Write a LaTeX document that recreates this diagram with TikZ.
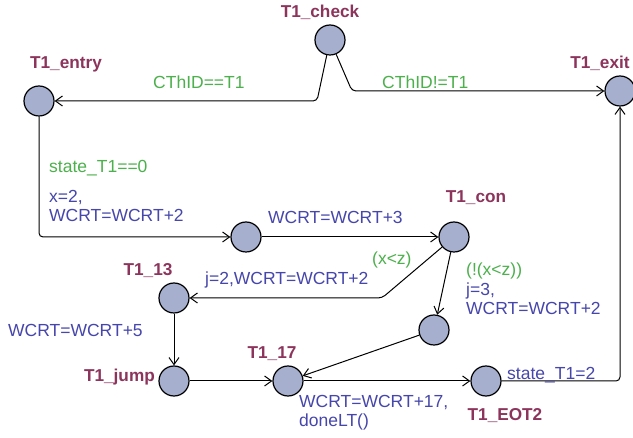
\documentclass[tikz,border=0pt]{standalone}
\usepackage{fontspec}
\setmainfont{Liberation Sans}
\usetikzlibrary{arrows.meta}
\definecolor{locfill}{RGB}{166,176,206}
\definecolor{locname}{RGB}{140,52,92}
\definecolor{guardc}{RGB}{76,176,76}
\definecolor{assignc}{RGB}{70,70,172}
\begin{document}
\begin{tikzpicture}[x=1pt,y=-1pt,
 loc/.style={circle, draw, line width=1.2pt, fill=locfill, minimum size=30pt, inner sep=0pt},
 lname/.style={text=locname, font=\fontsize{17.2}{19}\selectfont\bfseries, inner sep=0pt, anchor=base},
 grd/.style={text=guardc, font=\fontsize{17.5}{19}\selectfont, inner sep=0pt, anchor=base west},
 asg/.style={text=assignc, font=\fontsize{17.5}{19}\selectfont, inner sep=0pt, anchor=base west, align=left},
 edge/.style={draw, line width=1pt, -{Straight Barb[length=7pt,width=10pt]}, rounded corners=4pt}]
\useasboundingbox (0,0) rectangle (633,438);
\fill[white] (0,0) rectangle (633,438);
% locations
\node[loc] (check) at (330,40) {};
\node[loc] (entry) at (39,101) {};
\node[loc] (exit) at (620,91) {};
\node[loc] (a) at (246,237) {};
\node[loc] (con) at (454,237) {};
\node[loc] (t13) at (174,298) {};
\node[loc] (b) at (434,330) {};
\node[loc] (jump) at (174,381) {};
\node[loc] (t17) at (288,381) {};
\node[loc] (eot) at (486,381) {};
% names
\node[lname] (ncheck) at (320,18) {T1\_check};
\node[lname] (nentry) at (66,69) {T1\_entry};
\node[lname] (nexit) at (600,69) {T1\_exit};
\node[lname] (ncon) at (476,203) {T1\_con};
\node[lname] (n13) at (148,276) {T1\_13};
\node[lname, anchor=base east] (njump) at (155,382) {T1\_jump};
\node[lname] (n17) at (272,359) {T1\_17};
\node[lname] (neot) at (505,421) {T1\_EOT2};
% edges
\draw[edge] (check) -- (317,101) -- (entry);
\draw[edge] (check) -- (352,91) -- (exit);
\draw[edge] (entry) |- (a);
\draw[edge] (a) -- (con);
\draw[edge] (con) -- (382,298) -- (t13);
\draw[edge] (con) -- (b);
\draw[edge] (t13) -- (jump);
\draw[edge] (jump) -- (t17);
\draw[edge] (b) -- (t17);
\draw[edge] (t17) -- (eot);
\draw[edge] (eot) -| (exit);
% labels
\node[grd] (g1) at (153,89) {CThID==T1};
\node[grd] (g2) at (382,89) {CThID!=T1};
\node[grd] (g3) at (49,173) {state\_T1==0};
\node[asg] (s3) at (49,222) {x=2,\\WCRT=WCRT+2};
\node[asg] (s4) at (268,224) {WCRT=WCRT+3};
\node[grd] (g5) at (372,265) {(x<z)};
\node[asg] (s5) at (205,285) {j=2,WCRT=WCRT+2};
\node[grd] (g6) at (466,276) {(!(x<z))};
\node[asg] (s6) at (466,315) {j=3,\\WCRT=WCRT+2};
\node[asg] (s7) at (8,337) {WCRT=WCRT+5};
\node[asg] (s8) at (299,427) {WCRT=WCRT+17,\\doneLT()};
\node[asg] (s9) at (507,380) {state\_T1=2};
\end{tikzpicture}
\end{document}
